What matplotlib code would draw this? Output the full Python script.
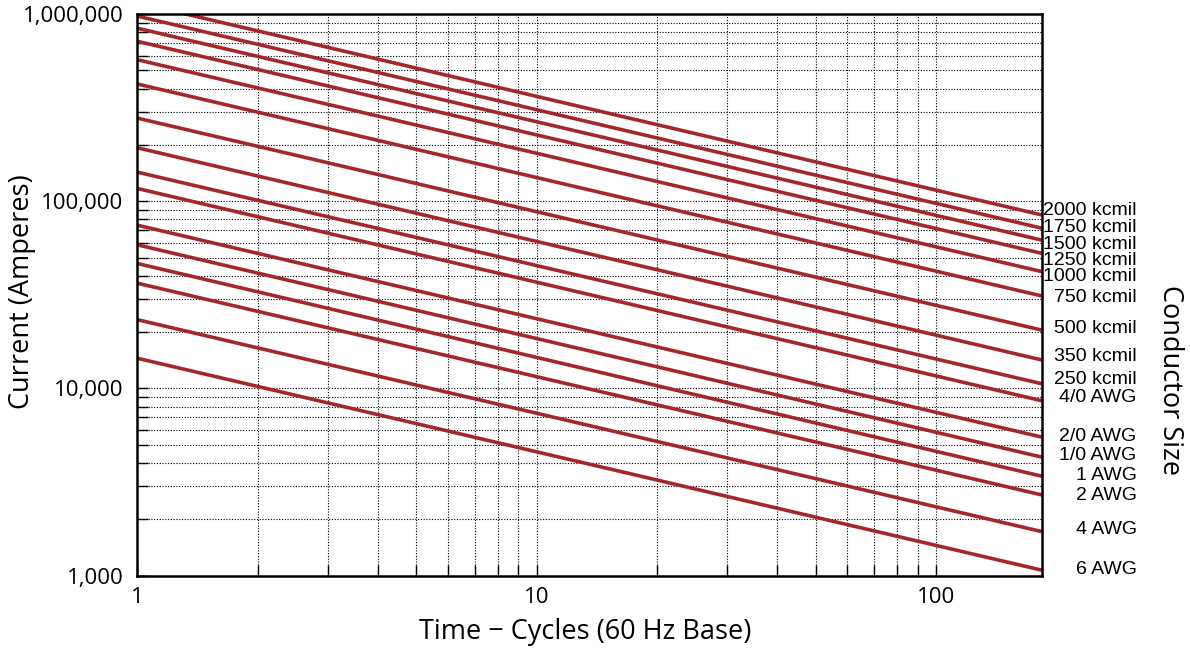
import numpy as np
import matplotlib
matplotlib.use('Agg')
import matplotlib.pyplot as plt
from matplotlib.ticker import FixedLocator, FuncFormatter, LogLocator, NullFormatter

# 导体规格和读取的电流值（1周波处和右端184周波处）
sizes = ['2000 kcmil', '1750 kcmil', '1500 kcmil', '1250 kcmil', '1000 kcmil',
         '750 kcmil', '500 kcmil', '350 kcmil', '250 kcmil', '4/0 AWG',
         '2/0 AWG', '1/0 AWG', '1 AWG', '2 AWG', '4 AWG', '6 AWG']
amps_at_1 = [1150000, 975000, 840000, 715000, 570000, 423000, 278000, 193000,
             143000, 117000, 74500, 58500, 46500, 36500, 23300, 14500]
amps_at_end = [84500, 71800, 62000, 52700, 42100, 31200, 20500, 14200,
               10600, 8600, 5500, 4300, 3400, 2700, 1720, 1070]
cycles = [1, 184]
y_ticks = [1000, 10000, 100000, 1000000]
x_ticks = [1, 10, 100]

# 标签上下微调（像素）
label_nudge = [4, 1, -4, -7, -5, -2, 2, 3, 4, 3, 1, 2, 1, -1, 2, 1]

red = '#a3282b'
tick_font = 'Open Sans'
lab_font = 'Liberation Sans'

fig = plt.figure(figsize=(11.9, 6.55), dpi=100)
ax = fig.add_axes([0.1154, 0.1211, 0.76, 0.8575])

for name, a1, a2 in zip(sizes, amps_at_1, amps_at_end):
    ax.plot(cycles, [a1, a2], color=red, lw=2.6, solid_capstyle='butt')

ax.set_xscale('log')
ax.set_yscale('log')
ax.set_xlim(cycles[0], cycles[-1])
ax.set_ylim(y_ticks[0], y_ticks[-1])

ax.xaxis.set_major_locator(FixedLocator(x_ticks))
ax.yaxis.set_major_locator(FixedLocator(y_ticks))
ax.xaxis.set_minor_locator(LogLocator(base=10, subs=np.arange(2, 10)))
ax.yaxis.set_minor_locator(LogLocator(base=10, subs=np.arange(2, 10)))
ax.xaxis.set_minor_formatter(NullFormatter())
ax.yaxis.set_minor_formatter(NullFormatter())
ax.xaxis.set_major_formatter(FuncFormatter(lambda v, p: f'{int(v):,}'))
ax.yaxis.set_major_formatter(FuncFormatter(lambda v, p: f'{int(v):,}'))

ax.grid(True, which='both', color='black', lw=0.8, linestyle=(0, (1, 1.5)))
ax.set_axisbelow(True)

ax.tick_params(which='both', direction='in', top=False, right=False,
               length=8, width=1, colors='black')
ax.tick_params(axis='y', which='major', pad=10)
ax.tick_params(axis='x', which='major', pad=8)
for lab in ax.get_xticklabels() + ax.get_yticklabels():
    lab.set_fontfamily(tick_font)
    lab.set_fontsize(16)
for s in ax.spines.values():
    s.set_linewidth(1.8)

# 坐标轴标题
fig.text(0.4916, 0.035, 'Time \u2212 Cycles (60 Hz Base)', fontsize=19.5,
         family=tick_font, ha='center', va='center')
fig.text(0.0185, 0.555, 'Current (Amperes)', rotation=90, fontsize=19.5,
         family=tick_font, ha='center', va='center')
fig.text(0.983, 0.42, 'Conductor Size', rotation=270, fontsize=19.5,
         family=tick_font, ha='center', va='center')

# 右侧导体规格标签
for name, a2, dy in zip(sizes, amps_at_end, label_nudge):
    ax.annotate(name, xy=(1, a2), xycoords=('axes fraction', 'data'),
                xytext=(68.4, dy * 0.72), textcoords='offset points',
                ha='right', va='center', fontsize=14, family=lab_font)

fig.savefig('out.png', dpi=100)
